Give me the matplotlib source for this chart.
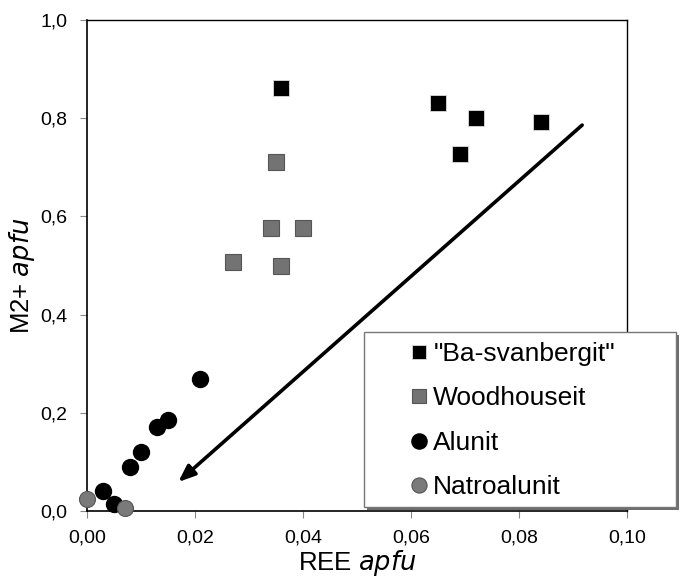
import matplotlib
matplotlib.use("Agg")
import matplotlib.pyplot as plt
from matplotlib.patches import Rectangle
from matplotlib.ticker import FuncFormatter, MultipleLocator

plt.rcParams['font.family'] = ['Liberation Sans', 'DejaVu Sans']

# Data
ba_x = [0.036, 0.065, 0.072, 0.084, 0.069]
ba_y = [0.861, 0.831, 0.800, 0.792, 0.727]

wood_x = [0.035, 0.034, 0.040, 0.027, 0.036]
wood_y = [0.711, 0.576, 0.576, 0.507, 0.499]

alu_x = [0.021, 0.015, 0.013, 0.010, 0.008, 0.003, 0.005]
alu_y = [0.269, 0.185, 0.171, 0.120, 0.090, 0.041, 0.014]

natro_x = [0.000, 0.007]
natro_y = [0.024, 0.006]

arrow_start = (0.0917, 0.786)
arrow_end = (0.0169, 0.059)

fig = plt.figure(figsize=(6.83, 5.80), dpi=100)
ax = fig.add_axes([0.1274, 0.119, 0.7906, 0.8465])

ax.plot(ba_x, ba_y, 's', color='black', markersize=11, markeredgecolor='#dddddd',
        markeredgewidth=0.6, label='"Ba-svanbergit"', clip_on=False, zorder=3)
ax.plot(wood_x, wood_y, 's', color='#737373', markersize=11, markeredgecolor='#555555',
        markeredgewidth=0.8, label='Woodhouseit', clip_on=False, zorder=3)
ax.plot(alu_x, alu_y, 'o', color='black', markersize=11.5, markeredgecolor='black',
        label='Alunit', clip_on=False, zorder=3)
ax.plot(natro_x, natro_y, 'o', color='#7a7a7a', markersize=11.5, markeredgecolor='#555555',
        markeredgewidth=0.8, label='Natroalunit', clip_on=False, zorder=3)

ax.annotate('', xy=arrow_end, xytext=arrow_start,
            arrowprops=dict(arrowstyle='-|>,head_length=1.0,head_width=0.4',
                            color='black', lw=2.6, shrinkA=0, shrinkB=0))

ax.set_xlim(0, 0.10)
ax.set_ylim(0, 1.0)
ax.xaxis.set_major_locator(MultipleLocator(0.02))
ax.yaxis.set_major_locator(MultipleLocator(0.2))
ax.xaxis.set_major_formatter(FuncFormatter(lambda v, p: f"{v:.2f}".replace('.', ',')))
ax.yaxis.set_major_formatter(FuncFormatter(lambda v, p: f"{v:.1f}".replace('.', ',')))
ax.tick_params(axis='both', labelsize=14, direction='out', length=5, color='#888888')
ax.tick_params(axis='x', pad=8)
ax.tick_params(axis='y', pad=9)
for s in ['top', 'right']:
    ax.spines[s].set_linewidth(1.0)
for s in ['left', 'bottom']:
    ax.spines[s].set_linewidth(1.2)

ax.set_xlabel('REE $\\it{apfu}$', fontsize=18.5, labelpad=1.5)
ax.set_ylabel('M2+ $\\it{apfu}$', fontsize=18.5, labelpad=6)
ax.yaxis.set_label_coords(-0.093, 0.478)

# legend box (with shadow) drawn in axes coordinates
bx0, by0, bw, bh = 0.513, 0.008, 0.578, 0.357
shadow = Rectangle((bx0 + 0.006, by0 - 0.007), bw, bh, transform=ax.transAxes,
                   facecolor='#6e6e6e', edgecolor='none', clip_on=False, zorder=4)
box = Rectangle((bx0, by0), bw, bh, transform=ax.transAxes,
                facecolor='white', edgecolor='#777777', lw=1.0, clip_on=False, zorder=5)
ax.add_patch(shadow)
ax.add_patch(box)

leg = ax.legend(loc='center left', bbox_to_anchor=(0.595, 0.184),
                fontsize=19, frameon=False,
                labelspacing=0.77, handletextpad=0.15, handlelength=0.8,
                borderpad=0, borderaxespad=0, markerscale=0.95)
leg.set_zorder(6)

fig.savefig('out.png', dpi=100)
